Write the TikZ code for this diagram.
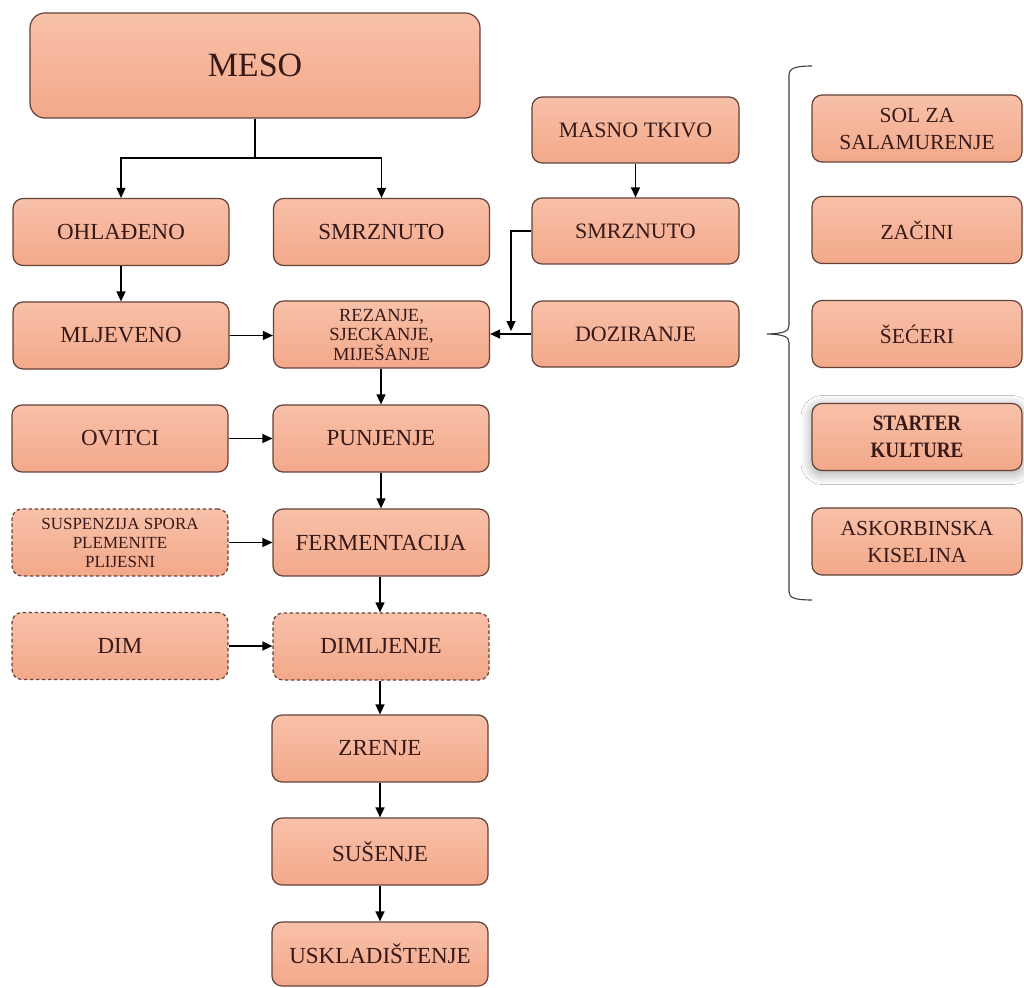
\documentclass[tikz,border=0pt]{standalone}
\usepackage{fontspec}
\setmainfont{Liberation Serif}
\usetikzlibrary{arrows.meta,shadows.blur,calc}
\definecolor{boxtop}{RGB}{248,193,169}
\definecolor{boxbot}{RGB}{243,168,138}
\definecolor{boxline}{RGB}{100,66,56}
\definecolor{txt}{RGB}{55,25,25}
\begin{document}
\begin{tikzpicture}[x=1pt,y=-1pt,
  box/.style={draw=boxline, line width=1.2pt, rounded corners=10pt, top color=boxtop, bottom color=boxbot, text=txt, align=center, inner sep=2pt, font=\fontsize{23}{26}\selectfont},
  cbox/.style={box, minimum width=216pt, minimum height=67pt},
  rbox/.style={box, minimum width=210pt, minimum height=67pt, font=\fontsize{21.5}{27}\selectfont},
  mbox/.style={box, minimum width=207pt, minimum height=66pt, font=\fontsize{22}{26}\selectfont},
  dbox/.style={cbox, dash pattern=on 3.5pt off 2.5pt},
  arr/.style={-{Triangle[length=10pt,width=9pt]}, line width=1.4pt, black},
  ln/.style={line width=1.4pt, black}]
\useasboundingbox[fill=white] (0,0) rectangle (1024,987);

% main boxes
\node[box, minimum width=450pt, minimum height=105pt, rounded corners=15pt, font=\fontsize{34}{40}\selectfont] (meso) at (255,65.5) {MESO};
\node[cbox] (ohl) at (121,232) {OHLAĐENO};
\node[cbox] (smr1) at (381.5,232) {SMRZNUTO};
\node[cbox] (mlj) at (121,335.5) {MLJEVENO};
\node[cbox, font=\fontsize{18.5}{19.5}\selectfont] (rez) at (381.5,334.5) {REZANJE,\\SJECKANJE,\\MIJEŠANJE};
\node[cbox] (ovitci) at (120,438.5) {OVITCI};
\node[cbox] (punj) at (381,438.5) {PUNJENJE};
\node[dbox, font=\fontsize{17}{19}\selectfont] (susp) at (120,542.5) {SUSPENZIJA SPORA\\PLEMENITE\\PLIJESNI};
\node[cbox] (ferm) at (381,542.5) {FERMENTACIJA};
\node[dbox] (dim) at (120,646) {DIM};
\node[dbox] (dimlj) at (381,646.5) {DIMLJENJE};
\node[cbox] (zrenje) at (380,748.5) {ZRENJE};
\node[cbox] (susenje) at (380,851.5) {SUŠENJE};
\node[cbox, minimum height=64pt] (uskl) at (380,954) {USKLADIŠTENJE};

% fat tissue column
\node[mbox] (masno) at (635.5,130) {MASNO TKIVO};
\node[mbox] (smr2) at (635.5,231) {SMRZNUTO};
\node[mbox] (doz) at (635.5,334) {DOZIRANJE};

% additives column
\node[rbox] (sol) at (917,128.5) {SOL ZA\\SALAMURENJE};
\node[rbox] (zac) at (917,230) {ZAČINI};
\node[rbox] (sec) at (917,334) {ŠEĆERI};
\node[rbox, font=\fontsize{22}{27}\selectfont\bfseries, blur shadow={shadow xshift=0pt, shadow yshift=-3pt, shadow blur radius=11pt, shadow blur steps=16, shadow opacity=38}] (starter) at (917,437) {\scalebox{0.87}[1]{STARTER}\\\scalebox{0.87}[1]{KULTURE}};
\node[rbox] (askor) at (917,541.5) {ASKORBINSKA\\KISELINA};

% connectors
\coordinate (j) at (255,158);
\draw[ln] (meso.south) -- (j);
\draw[arr] (j) -| (ohl.north);
\draw[arr] (j) -| (smr1.north);
\draw[arr] (ohl.south) -- (mlj.north);
\draw[arr] (mlj.east) -- (mlj.east -| rez.west);
\draw[arr] (rez.south -| punj.north) -- (punj.north);
\draw[arr] (punj.south) -- (ferm.north -| punj.south);
\draw[arr] (ferm.south -| zrenje.north) -- (dimlj.north -| zrenje.north);
\draw[arr] (dimlj.south -| zrenje.north) -- (zrenje.north);
\draw[arr] (zrenje.south) -- (susenje.north);
\draw[arr] (susenje.south) -- (uskl.north);
\draw[arr] (ovitci.east) -- (ovitci.east -| punj.west);
\draw[arr] (susp.east) -- (susp.east -| ferm.west);
\draw[arr] (dim.east) -- (dim.east -| dimlj.west);
\draw[arr] (masno.south) -- (smr2.north);
\draw[arr] (doz.west) -- (doz.west -| rez.east);
\coordinate (k) at (511,331);
\draw[arr] (smr2.west) -- (smr2.west -| k) -- (k);

% brace
\draw[line width=1.1pt, black!75] (812,66) .. controls (796,66) and (789,68) .. (789,75)
  -- (789,325) .. controls (789,331) and (785,333.5) .. (767,334)
  .. controls (785,334.5) and (789,337) .. (789,343)
  -- (789,592) .. controls (789,598) and (796,600) .. (812,600);
\end{tikzpicture}
\end{document}
